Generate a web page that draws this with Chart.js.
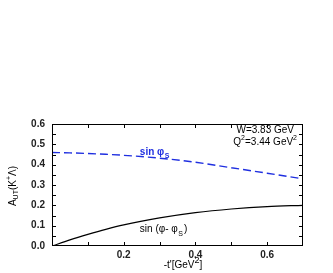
<!DOCTYPE html>
<html>
<head>
<meta charset="utf-8">
<script src="https://cdn.jsdelivr.net/npm/chart.js@4.4.0/dist/chart.umd.min.js"></script>
<style>
  html, body { margin: 0; padding: 0; background: #fff; }
  #wrap { width: 333px; height: 273px; }
</style>
</head>
<body>
<div id="wrap"><canvas id="c" width="333" height="273"></canvas></div>
<script>
// -t' values [GeV^2]
var tValues = [0, 0.05, 0.1, 0.15, 0.2, 0.3, 0.4, 0.5, 0.6, 0.7]
// sin(phi_S) modulation (blue dashed)
var sinPhiS = [0.46, 0.458, 0.455, 0.451, 0.446, 0.432, 0.412, 0.385, 0.358, 0.33]
// sin(phi - phi_S) modulation (black solid)
var sinPhiMinusPhiS = [0, 0.03, 0.057, 0.082, 0.104, 0.138, 0.164, 0.182, 0.194, 0.2]
var xTickLabels = ['0.2', '0.4', '0.6']

var font = 'Liberation Sans, Arial, Helvetica, sans-serif'

function toXY(ys) {
    return tValues.map(function(t, i) { return { x: t, y: ys[i] } })
}

// draw pieces of text with different sizes / offsets in a row
function drawParts(ctx, parts, x, y, weight) {
    var cx = x
    parts.forEach(function(p) {
        ctx.font = (weight || '') + ' ' + p[1] + 'px ' + font
        ctx.fillText(p[0], cx, y + p[2])
        cx += ctx.measureText(p[0]).width + (p[3] || 0)
    })
    return cx - x
}

function partsWidth(ctx, parts, weight) {
    var w = 0
    parts.forEach(function(p) {
        ctx.font = (weight || '') + ' ' + p[1] + 'px ' + font
        w += ctx.measureText(p[0]).width + (p[3] || 0)
    })
    return w
}

// frame, inward ticks and text annotations
var decor = {
    id: 'decor',
    afterDatasetsDraw(chart) {
        var ctx = chart.ctx
        var a = chart.chartArea
        var xs = chart.scales.x, ys = chart.scales.y
        ctx.save()
        ctx.strokeStyle = '#000'
        ctx.lineWidth = 1
        ctx.strokeRect(a.left + 0.5, a.top + 0.5, a.right - a.left - 1, a.bottom - a.top - 1)
        ctx.beginPath()
        for (var i = 1; i < 7; i++) {
            var px = Math.round(xs.getPixelForValue(i / 10)) + 0.5
            ctx.moveTo(px, a.bottom); ctx.lineTo(px, a.bottom - 4)
            ctx.moveTo(px, a.top); ctx.lineTo(px, a.top + 4)
        }
        for (var j = 1; j < 12; j++) {
            var py = Math.round(ys.getPixelForValue(j * 0.05)) + 0.5
            ctx.moveTo(a.left, py); ctx.lineTo(a.left + 4, py)
            ctx.moveTo(a.right, py); ctx.lineTo(a.right - 4, py)
        }
        ctx.stroke()

        ctx.textBaseline = 'middle'
        ctx.textAlign = 'left'
        // blue label
        ctx.fillStyle = '#1f2fe0'
        var lx = xs.getPixelForValue(0.245), ly = ys.getPixelForValue(0.462)
        drawParts(ctx, [['sin \u03c6', 10, 0, 0.5], ['S', 7, 4]], lx, ly, 'bold')

        // black label
        ctx.fillStyle = '#000'
        lx = xs.getPixelForValue(0.245); ly = ys.getPixelForValue(0.08)
        drawParts(ctx, [['sin (\u03c6- \u03c6', 10, 0, 0.5], ['S', 7, 4, 1], [')', 10, 0]], lx, ly)

        // kinematics
        var l1 = [['W=3.83 GeV', 10, 0]]
        var l2 = [['Q', 10, 0], ['2', 7, -4], ['=3.44 GeV', 10, 0], ['2', 7, -4]]
        drawParts(ctx, l1, a.right - 9 - partsWidth(ctx, l1), a.top + 6)
        drawParts(ctx, l2, a.right - 6 - partsWidth(ctx, l2), a.top + 18)

        // x title
        var xt = [["-t'[GeV", 10, 0], ['2', 9, -4], [']', 10, 0]]
        drawParts(ctx, xt, 183 - partsWidth(ctx, xt) / 2, 265)

        // y title, rotated
        ctx.translate(13, (a.top + a.bottom) / 2 + 1)
        ctx.rotate(-Math.PI / 2)
        var parts = [['A', 10, 0], ['UT', 7, 3], ['(K', 10, 0], ['+', 7, -4], ['\u039b)', 10, 0]]
        drawParts(ctx, parts, -partsWidth(ctx, parts) / 2, 0)
        ctx.restore()
    }
}

new Chart(document.getElementById('c'), {
    type: 'line',
    data: {
        datasets: [
            {
                label: 'sin phi_S',
                data: toXY(sinPhiS),
                borderColor: '#1f2fe0',
                borderWidth: 1.4,
                borderDash: [8, 4],
                pointRadius: 0,
                fill: false,
                cubicInterpolationMode: 'monotone'
            },
            {
                label: 'sin(phi - phi_S)',
                data: toXY(sinPhiMinusPhiS),
                borderColor: '#000',
                borderWidth: 1.2,
                pointRadius: 0,
                fill: false,
                cubicInterpolationMode: 'monotone'
            }
        ]
    },
    options: {
        responsive: false,
        animation: false,
        layout: { padding: { top: 124, right: 30, left: 0, bottom: 0 } },
        plugins: { legend: { display: false }, tooltip: { enabled: false } },
        scales: {
            x: {
                type: 'linear',
                min: 0,
                max: 0.7,
                grid: { display: false, drawTicks: false, tickLength: 0 },
                border: { display: false },
                ticks: {
                    stepSize: 0.1,
                    autoSkip: false,
                    maxRotation: 0,
                    padding: 3,
                    color: '#222',
                    font: { family: font, size: 10, weight: 'bold' },
                    callback: function(v) {
                        var s = (Math.round(v * 10) / 10).toFixed(1)
                        return xTickLabels.indexOf(s) >= 0 ? s : ''
                    }
                },
                afterFit(s) { s.height = 27 }
            },
            y: {
                min: 0,
                max: 0.6,
                grid: { display: false, drawTicks: false, tickLength: 0 },
                border: { display: false },
                ticks: {
                    stepSize: 0.1,
                    padding: 7,
                    color: '#222',
                    font: { family: font, size: 10, weight: 'bold' },
                    callback: function(v) { return v.toFixed(1) }
                },
                afterFit(s) { s.width = 52 }
            }
        }
    },
    plugins: [decor]
})
</script>
</body>
</html>
